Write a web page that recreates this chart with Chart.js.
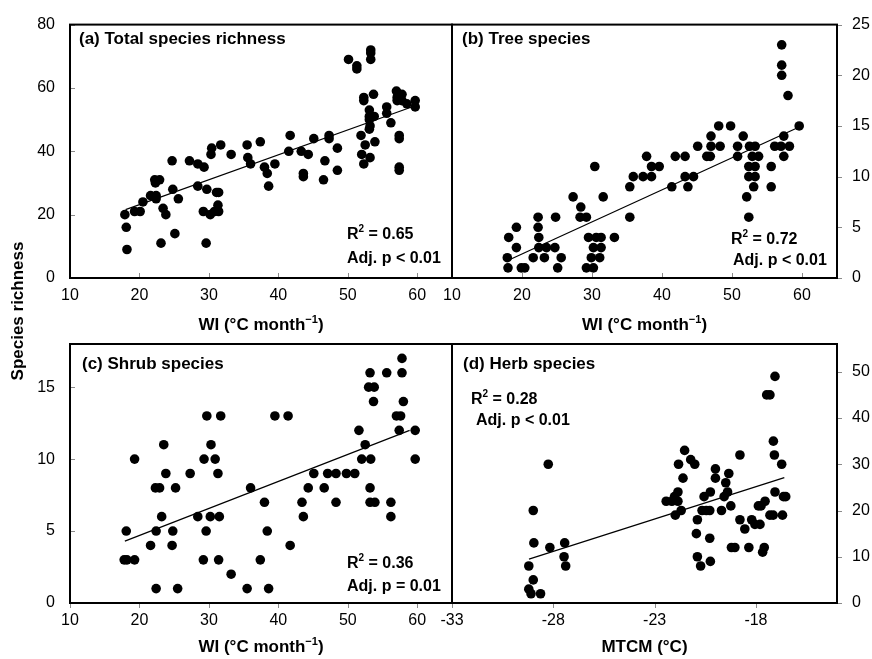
<!DOCTYPE html>
<html>
<head>
<meta charset="utf-8">
<title>Species richness vs climate</title>
<script src="https://cdn.jsdelivr.net/npm/chart.js@4.4.1/dist/chart.umd.min.js"></script>
<style>
  body { margin: 0; background: #fff; }
  #wrap { position: relative; width: 872px; height: 659px; }
  #wrap canvas { position: absolute; left: 0; top: 0; }
</style>
</head>
<body>
<div id="wrap">
  <canvas id="panelA" width="872" height="659"></canvas>
  <canvas id="panelB" width="872" height="659"></canvas>
  <canvas id="panelC" width="872" height="659"></canvas>
  <canvas id="panelD" width="872" height="659"></canvas>
</div>
<script>
var FONT = "'Liberation Sans', Arial, Helvetica, sans-serif";

// (a) total species richness against WI
var wiTotal = [17.9, 18.1, 18.2, 19.3, 20.1, 20.5, 21.6, 22.4, 22.2, 22.9, 22.3, 22.4, 23.4, 23.8, 23.1, 24.8,
  25.1, 25.6, 24.7, 27.2, 28.4, 28.4, 29.3, 29.2, 30.2, 29.7, 29.6, 30.3, 30.4, 31.7, 31.1, 31.4, 31.3, 31.4,
  30.8, 33.2, 35.5, 35.6, 36.0, 37.4, 38.0, 38.4, 38.6, 39.5, 41.5, 41.7, 43.3, 43.6, 43.6, 44.3, 45.1, 46.7,
  46.5, 47.3, 47.3, 48.5, 48.5, 50.1, 51.3, 51.3, 51.9, 52.0, 52.3, 52.5, 53.2, 53.3, 53.3, 53.3, 52.3, 52.3,
  53.7, 53.1, 53.1, 53.1, 53.2, 53.1, 53.8, 53.9, 55.6, 55.6, 56.2, 57.0, 57.1, 57.1, 57.8, 57.8, 57.4, 57.4,
  57.4, 57.4, 58.5, 59.7, 59.7];
var nTotal = [20, 16, 9, 21, 21, 24, 26, 26, 31, 31, 30, 25, 22, 20, 11, 28,
  14, 25, 37, 37, 29, 36, 35, 21, 20, 28, 11, 39, 41, 42, 27, 27, 23, 21,
  21, 39, 42, 38, 36, 43, 35, 33, 29, 36, 40, 45, 40, 33, 32, 39, 44, 37,
  31, 45, 44, 41, 34, 69, 67, 66, 45, 39, 36, 42, 38, 72, 71, 69, 57, 56,
  58, 53, 51, 50, 48, 47, 51, 43, 54, 52, 49, 59, 57, 56, 58, 56, 45, 44,
  35, 34, 55, 56, 54];
var fitTotalX = [18.0, 59.6];
var fitTotalY = [21.6, 54.3];

// (b) tree species against WI
var wiTree = [57.1, 57.1, 57.1, 58.0, 59.6, 57.4, 56.1, 57.0, 58.2, 57.4, 55.6, 55.6,
  48.1, 49.8, 47.0, 47.0, 48.3, 45.1, 46.4, 46.9, 50.8, 50.8, 51.6,
  52.5, 53.3, 52.9, 53.8, 52.4, 53.3, 52.4, 53.3, 53.1, 52.1, 52.4,
  41.9, 43.3, 43.3, 44.5, 41.4, 43.7,
  37.8, 38.5, 39.6, 37.3, 38.5, 35.9, 35.4, 35.4,
  30.4, 31.6, 27.3, 28.4, 28.3, 29.2, 29.5, 30.6, 31.3, 30.2, 31.3, 29.9, 31.1, 29.2, 30.2, 33.2,
  22.3, 24.8, 22.3, 19.2, 18.1, 19.2, 22.4, 22.4, 23.5, 24.7, 17.9, 21.6, 23.2, 25.6, 18.0, 19.9, 20.4, 25.1];
var nTree = [23, 21, 20, 18, 15, 14, 13, 13, 13, 12, 11, 9,
  15, 15, 14, 13, 13, 13, 12, 12, 13, 12, 14,
  13, 13, 12, 12, 11, 11, 10, 10, 9, 8, 6,
  12, 12, 10, 10, 9, 9,
  12, 11, 11, 10, 10, 10, 9, 6,
  11, 8, 8, 7, 6, 6, 4, 4, 4, 3, 3, 2, 2, 1, 1, 4,
  6, 6, 5, 5, 4, 3, 4, 3, 3, 3, 2, 2, 2, 2, 1, 1, 1, 1];
var fitTreeX = [18.2, 59.6];
var fitTreeY = [1.8, 14.9];

// (c) shrub species against WI
var wiShrub = [57.8, 53.2, 55.6, 57.8, 53.0, 53.8, 53.7, 58.0, 57.0, 57.6, 29.7, 31.7, 39.5, 41.4,
  51.6, 57.4, 59.7, 52.5, 23.5, 30.3, 52.0, 53.3, 59.7, 19.3, 29.3, 30.9,
  23.8, 27.3, 31.3, 45.1, 47.1, 48.3, 49.8, 51.0, 22.3, 22.9, 25.2, 36.0, 44.3, 46.6, 53.2,
  38.0, 43.4, 48.3, 53.2, 53.9, 56.2, 23.2, 28.4, 30.2, 31.5, 43.6, 56.2,
  18.1, 22.4, 24.8, 29.6, 38.4, 21.6, 24.7, 41.7, 17.8, 18.2, 19.3, 29.2, 31.4, 37.4,
  33.2, 22.4, 25.5, 35.5, 38.6];
var nShrub = [17, 16, 16, 16, 15, 15, 14, 14, 13, 13, 13, 13, 13, 13,
  12, 12, 12, 11, 11, 11, 10, 10, 10, 10, 10, 10,
  9, 9, 9, 9, 9, 9, 9, 9, 8, 8, 8, 8, 8, 8, 8,
  7, 7, 7, 7, 7, 7, 6, 6, 6, 6, 6, 6,
  5, 5, 5, 5, 5, 4, 4, 4, 3, 3, 3, 3, 3, 3,
  2, 1, 1, 1, 1];
var fitShrubX = [17.9, 58.9];
var fitShrubY = [4.3, 12.0];

// (d) herb species against MTCM
var mtcmHerb = [-17.06, -17.47, -17.31, -17.14, -17.09, -16.73, -17.06, -16.64, -16.53, -16.69, -17.31, -17.15,
  -17.55, -17.75, -17.88, -17.80, -18.05, -18.21, -18.55, -18.79, -18.35, -17.59, -17.67, -19.21, -19.04,
  -18.79, -19.34, -19.49, -19.40, -19.57, -19.24, -19.70, -20.00, -20.00, -20.25, -20.56, -20.28, -20.66,
  -20.45, -20.28, -20.25, -20.89, -20.94, -20.89, -20.73, -21.52, -21.22, -21.02, -21.82, -21.60, -21.85,
  -22.02, -22.15, -22.43, -21.85, -21.69, -21.98, -28.25, -28.99, -28.96, -28.17, -27.44, -27.47, -27.39,
  -29.21, -28.99, -29.21, -29.10, -28.63];
var nHerb = [49, 45, 45, 35, 32, 30, 24, 23, 23, 19, 19, 19,
  22, 21, 21, 17, 17, 18, 16, 18, 12, 12, 11, 12, 12,
  32, 28, 26, 24, 23, 21, 20, 29, 27, 24, 23, 20, 20,
  20, 14, 9, 18, 15, 10, 8, 33, 31, 30, 30, 27, 24,
  23, 22, 22, 22, 20, 19, 30, 20, 13, 12, 13, 10, 8,
  8, 5, 3, 2, 2];
var fitHerbX = [-29.2, -16.6];
var fitHerbY = [9.5, 27.1];

// axis ticks
var wiTicks = [10, 20, 30, 40, 50, 60];
var mtcmTicks = [-33, -28, -23, -18];
var totalTicks = [0, 20, 40, 60, 80];
var treeTicks = [0, 5, 10, 15, 20, 25];
var shrubTicks = [0, 5, 10, 15];
var herbTicks = [0, 10, 20, 30, 40, 50];

function pairs(xs, ys) {
  return xs.map(function (x, i) { return { x: x, y: ys[i] }; });
}

// text with superscripts, parts = [[text, isSup], ...]
function drawRich(ctx, parts, x, y, size, align) {
  var supSize = Math.round(size * 0.62);
  var w = 0;
  parts.forEach(function (p) {
    ctx.font = 'bold ' + (p[1] ? supSize : size) + 'px ' + FONT;
    w += ctx.measureText(p[0]).width;
  });
  var cx = align === 'center' ? x - w / 2 : x;
  ctx.textAlign = 'left';
  ctx.textBaseline = 'alphabetic';
  parts.forEach(function (p) {
    ctx.font = 'bold ' + (p[1] ? supSize : size) + 'px ' + FONT;
    ctx.fillText(p[0], cx, p[1] ? y - size * 0.42 : y);
    cx += ctx.measureText(p[0]).width;
  });
}

var panelDeco = {
  id: 'panelDeco',
  afterDraw: function (chart, args, o) {
    var ctx = chart.ctx, a = chart.chartArea;
    var xs = chart.scales.x, ys = chart.scales.y;
    ctx.save();
    // tick marks
    ctx.strokeStyle = '#8a8a8a';
    ctx.lineWidth = 1;
    xs.ticks.forEach(function (t) {
      var px = Math.round(xs.getPixelForValue(t.value)) + 0.5;
      ctx.beginPath();
      ctx.moveTo(px, a.bottom);
      ctx.lineTo(px, o.xIn ? a.bottom - 5 : a.bottom + 5);
      ctx.stroke();
    });
    ys.ticks.forEach(function (t) {
      var py = Math.round(ys.getPixelForValue(t.value)) + 0.5;
      ctx.beginPath();
      if (o.yRight) {
        ctx.moveTo(a.right, py);
        ctx.lineTo(a.right + 5, py);
      } else {
        ctx.moveTo(a.left, py);
        ctx.lineTo(a.left + 5, py);
      }
      ctx.stroke();
    });
    // frame
    ctx.strokeStyle = '#000';
    ctx.lineWidth = 2;
    ctx.strokeRect(a.left, a.top, a.right - a.left, a.bottom - a.top);
    // texts
    ctx.fillStyle = '#000';
    ctx.font = 'bold 17px ' + FONT;
    ctx.textAlign = 'left';
    ctx.textBaseline = 'alphabetic';
    ctx.fillText(o.title, o.titleX, o.titleY);
    drawRich(ctx, [['R', false], ['2', true], [' = ' + o.r2, false]], o.r2X, o.r2Y, 16, 'left');
    drawRich(ctx, [['Adj. p ' + o.p, false]], o.pX, o.pY, 16, 'left');
    drawRich(ctx, o.xTitle, (a.left + a.right) / 2, o.xTitleY, 17, 'center');
    if (o.yTitle) {
      ctx.translate(18, 311);
      ctx.rotate(-Math.PI / 2);
      ctx.font = 'bold 17px ' + FONT;
      ctx.textAlign = 'center';
      ctx.textBaseline = 'middle';
      ctx.fillText(o.yTitle, 0, 0);
    }
    ctx.restore();
  }
};

var wiTitle = [['WI (\u00B0C month', false], ['\u22121', true], [')', false]];

function makePanel(id, p) {
  return new Chart(document.getElementById(id), {
    type: 'scatter',
    data: {
      datasets: [
        { data: pairs(p.xs, p.ys), pointRadius: 4.8, pointHoverRadius: 4.8,
          pointBackgroundColor: '#000', pointBorderWidth: 0 },
        { type: 'line', data: pairs(p.fitX, p.fitY), borderColor: '#000', borderWidth: 1.2,
          pointRadius: 0, fill: false }
      ]
    },
    options: {
      responsive: false,
      animation: false,
      events: [],
      layout: { padding: p.pad, autoPadding: false },
      plugins: { legend: { display: false }, tooltip: { enabled: false }, panelDeco: p.deco },
      scales: {
        x: {
          type: 'linear', position: 'bottom', min: p.xMin, max: p.xMax,
          grid: { display: false, drawTicks: false }, border: { display: false },
          ticks: { color: '#000', font: { family: FONT, size: 16 }, padding: 8, maxRotation: 0, autoSkip: false },
          afterBuildTicks: function (s) { s.ticks = p.xTicks.map(function (v) { return { value: v }; }); },
          afterFit: function (s) { s.height = 30; }
        },
        y: {
          type: 'linear', position: p.yPos, min: 0, max: p.yMax,
          grid: { display: false, drawTicks: false }, border: { display: false },
          ticks: { color: '#000', font: { family: FONT, size: 16 }, padding: 15, autoSkip: false },
          afterBuildTicks: function (s) { s.ticks = p.yTicks.map(function (v) { return { value: v }; }); },
          afterFit: function (s) { s.width = 40; }
        }
      }
    },
    plugins: [panelDeco]
  });
}

makePanel('panelA', {
  xs: wiTotal, ys: nTotal, fitX: fitTotalX, fitY: fitTotalY,
  xMin: 10, xMax: 65, xTicks: wiTicks, yMax: 80, yTicks: totalTicks, yPos: 'left',
  pad: { left: 30, right: 420, top: 18, bottom: 351 },
  deco: { xIn: true, yRight: false, title: '(a) Total species richness', titleX: 79, titleY: 44,
    r2: '0.65', r2X: 347, r2Y: 239, p: '< 0.01', pX: 347, pY: 263,
    xTitle: wiTitle, xTitleY: 330, yTitle: 'Species richness' }
});

makePanel('panelB', {
  xs: wiTree, ys: nTree, fitX: fitTreeX, fitY: fitTreeY,
  xMin: 10, xMax: 65, xTicks: wiTicks, yMax: 25, yTicks: treeTicks, yPos: 'right',
  pad: { left: 452, right: -5, top: 18, bottom: 351 },
  deco: { xIn: true, yRight: true, title: '(b) Tree species', titleX: 462, titleY: 44,
    r2: '0.72', r2X: 731, r2Y: 244, p: '< 0.01', pX: 733, pY: 265,
    xTitle: wiTitle, xTitleY: 330 }
});

makePanel('panelC', {
  xs: wiShrub, ys: nShrub, fitX: fitShrubX, fitY: fitShrubY,
  xMin: 10, xMax: 65, xTicks: wiTicks, yMax: 18, yTicks: shrubTicks, yPos: 'left',
  pad: { left: 30, right: 420, top: 344, bottom: 26 },
  deco: { xIn: false, yRight: false, title: '(c) Shrub species', titleX: 82, titleY: 369,
    r2: '0.36', r2X: 347, r2Y: 568, p: '= 0.01', pX: 347, pY: 591,
    xTitle: wiTitle, xTitleY: 652 }
});

makePanel('panelD', {
  xs: mtcmHerb, ys: nHerb, fitX: fitHerbX, fitY: fitHerbY,
  xMin: -33, xMax: -14, xTicks: mtcmTicks, yMax: 56, yTicks: herbTicks, yPos: 'right',
  pad: { left: 452, right: -5, top: 344, bottom: 26 },
  deco: { xIn: false, yRight: true, title: '(d) Herb species', titleX: 463, titleY: 369,
    r2: '0.28', r2X: 471, r2Y: 404, p: '< 0.01', pX: 476, pY: 425,
    xTitle: [['MTCM (\u00B0C)', false]], xTitleY: 652 }
});
</script>
</body>
</html>
